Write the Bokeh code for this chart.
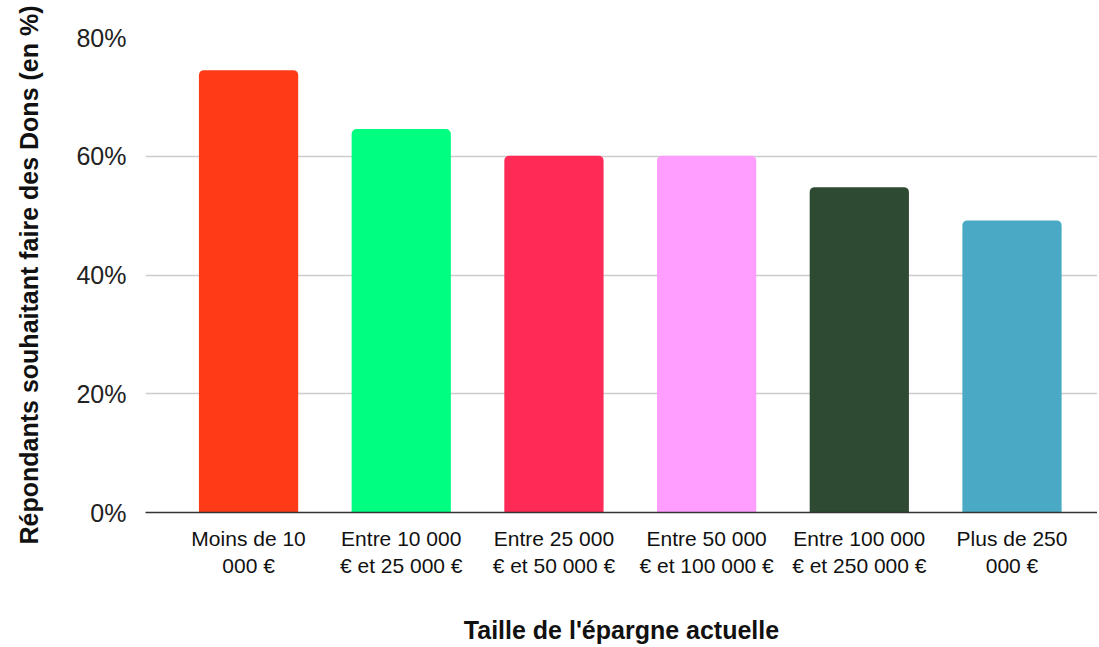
from bokeh.plotting import figure
from bokeh.models import Range1d, FixedTicker
from bokeh.embed import file_html
from bokeh.resources import INLINE

categories = ["Moins de 10\n000 €", "Entre 10 000\n€ et 25 000 €", "Entre 25 000\n€ et 50 000 €",
              "Entre 50 000\n€ et 100 000 €", "Entre 100 000\n€ et 250 000 €", "Plus de 250\n000 €"]
values = [74.5, 64.6, 60.1, 60.1, 54.8, 49.2]
colors = ["#FF3A17", "#00FF80", "#FF2A55", "#FF9EFF", "#2E4A33", "#4AAAC5"]
y_ticks = [0, 20, 40, 60, 80]

FONT = "Liberation Sans"

xs = list(range(len(categories)))

p = figure(width=1097, height=647, output_backend="svg", toolbar_location=None,
           x_range=Range1d(-0.675, 5.56), y_range=Range1d(0, 80),
           min_border_left=145, min_border_right=0, min_border_top=37, min_border_bottom=132)
p.outline_line_color = None

p.vbar(x=xs, top=values, width=0.65, fill_color=colors, line_color=None,
       border_radius=(5, 5, 0, 0))

p.xgrid.grid_line_color = None
p.ygrid.grid_line_color = "#cccccc"
p.ygrid.grid_line_width = 1.5

p.yaxis.ticker = FixedTicker(ticks=y_ticks)
p.yaxis.major_label_overrides = {t: f"{t}%" for t in y_ticks}
p.yaxis.axis_line_color = None
p.yaxis.major_tick_line_color = None
p.yaxis.minor_tick_line_color = None
p.yaxis.major_label_text_font = FONT
p.yaxis.major_label_text_font_size = "25px"
p.yaxis.major_label_text_color = "#222222"
p.yaxis.major_label_standoff = 13
p.yaxis.axis_label = "Répondants souhaitant faire des Dons (en %)"
p.yaxis.axis_label_text_font = FONT
p.yaxis.axis_label_text_font_style = "bold"
p.yaxis.axis_label_text_font_size = "25px"
p.yaxis.axis_label_text_color = "#111111"
p.yaxis.axis_label_standoff = 30

p.xaxis.ticker = FixedTicker(ticks=xs)
p.xaxis.major_label_overrides = {i: c for i, c in enumerate(categories)}
p.xaxis.axis_line_color = "#333333"
p.xaxis.axis_line_width = 1.5
p.xaxis.major_tick_line_color = None
p.xaxis.minor_tick_line_color = None
p.xaxis.major_label_text_font = FONT
p.xaxis.major_label_text_font_size = "21px"
p.xaxis.major_label_text_color = "#111111"
p.xaxis.major_label_standoff = 8
p.xaxis.axis_label = "Taille de l'épargne actuelle"
p.xaxis.axis_label_text_font = FONT
p.xaxis.axis_label_text_font_style = "bold"
p.xaxis.axis_label_text_font_size = "25px"
p.xaxis.axis_label_text_color = "#111111"
p.xaxis.axis_label_standoff = 36

open("out.html", "w").write(file_html(p, INLINE))
